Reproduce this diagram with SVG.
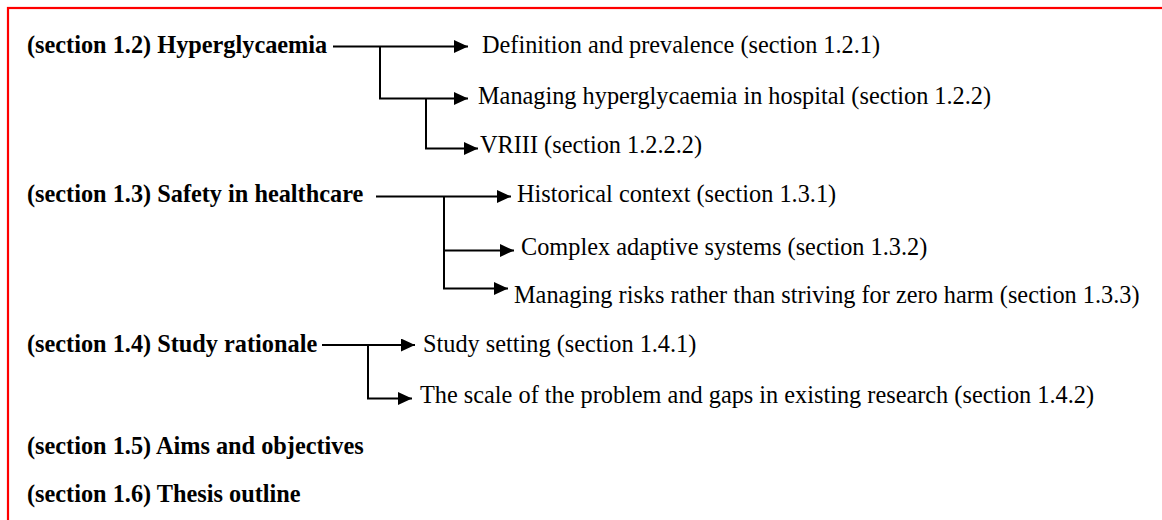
<svg xmlns="http://www.w3.org/2000/svg" width="1162" height="520" viewBox="0 0 1162 520">
  <style>
    .head { font-family: "Liberation Serif", "Times New Roman", serif; font-size: 24.3px; font-weight: bold; fill: #000; }
    .item { font-family: "Liberation Serif", "Times New Roman", serif; font-size: 24.3px; fill: #000; }
    .link { fill: none; stroke: #000; stroke-width: 2; }
  </style>
  <defs>
    <marker id="arrow" markerUnits="userSpaceOnUse" markerWidth="15" markerHeight="14" refX="14" refY="6.5" orient="auto">
      <path d="M0,0 L14,6.5 L0,13 z" fill="#000"/>
    </marker>
  </defs>

  <rect width="1162" height="520" fill="#fff"/>
  <!-- frame: only the top and left edges fall inside the page -->
  <rect id="frame" x="8" y="8" width="1200" height="600" fill="none" stroke="#f00" stroke-width="2.2"/>

  <!-- section headings -->
  <g id="s12"><text class="head" x="27" y="53">(section 1.2) Hyperglycaemia</text></g>
  <g id="s13"><text class="head" x="27" y="202">(section 1.3) Safety in healthcare</text></g>
  <g id="s14"><text class="head" x="27" y="352">(section 1.4) Study rationale</text></g>
  <g id="s15"><text class="head" x="27" y="454">(section 1.5) Aims and objectives</text></g>
  <g id="s16"><text class="head" x="27" y="502">(section 1.6) Thesis outline</text></g>

  <!-- subsections -->
  <g id="s121"><text class="item" x="482" y="53">Definition and prevalence (section 1.2.1)</text></g>
  <g id="s122"><text class="item" x="478" y="104">Managing hyperglycaemia in hospital (section 1.2.2)</text></g>
  <g id="s1222"><text class="item" x="480" y="153">VRIII (section 1.2.2.2)</text></g>
  <g id="s131"><text class="item" x="517" y="202">Historical context (section 1.3.1)</text></g>
  <g id="s132"><text class="item" x="521" y="255">Complex adaptive systems (section 1.3.2)</text></g>
  <g id="s133"><text class="item" x="514" y="303">Managing risks rather than striving for zero harm (section 1.3.3)</text></g>
  <g id="s141"><text class="item" x="423" y="352">Study setting (section 1.4.1)</text></g>
  <g id="s142"><text class="item" x="420" y="403">The scale of the problem and gaps in existing research (section 1.4.2)</text></g>

  <!-- connectors -->
  <g id="connectors">
    <path class="link" d="M333,46.5 H468" marker-end="url(#arrow)"/>
    <path class="link" d="M380,46.5 V98.5 H468" marker-end="url(#arrow)"/>
    <path class="link" d="M426,98.5 V148.5 H478" marker-end="url(#arrow)"/>

    <path class="link" d="M376,196.5 H511" marker-end="url(#arrow)"/>
    <path class="link" d="M444,196.5 V250.5 H514" marker-end="url(#arrow)"/>
    <path class="link" d="M444,250.5 V288.5 H508" marker-end="url(#arrow)"/>

    <path class="link" d="M322,345 H415" marker-end="url(#arrow)"/>
    <path class="link" d="M368,345 V398.5 H412" marker-end="url(#arrow)"/>
  </g>
</svg>
